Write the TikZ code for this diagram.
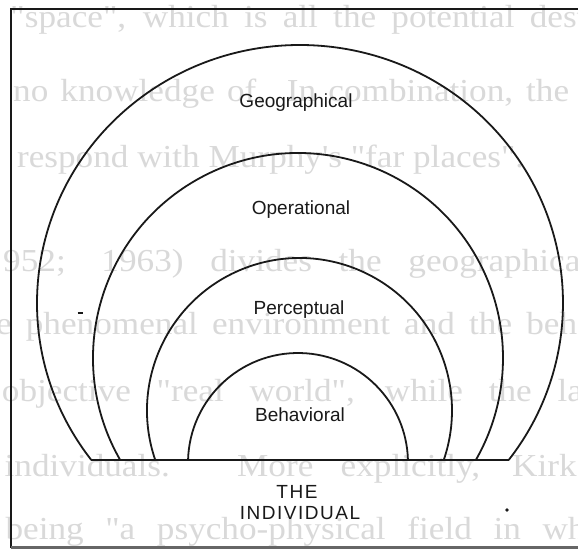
\documentclass[tikz,border=0pt]{standalone}
\usepackage{fontspec}
\setmainfont{Liberation Serif}
\newfontfamily\labelfont{Liberation Sans}
\newfontfamily\pagefont[FakeStretch=1.1]{Liberation Serif}
\usetikzlibrary{calc}

\begin{document}
\begin{tikzpicture}[x=1pt,y=1pt,
  ring/.style={line width=1.8pt, black!90},
  baseline rule/.style={line width=2.6pt, black!90},
  frame/.style={line width=2.6pt, black!90},
  lbl/.style={font=\labelfont\fontsize{19}{21}\selectfont, text=black!90, inner sep=0pt},
  spaced/.style={font=\labelfont\fontsize{19}{21}\selectfont\addfontfeature{LetterSpace=8}, text=black!90, inner sep=0pt},
  pageline/.style={font=\pagefont\fontsize{32}{34}\selectfont, text=black!15, inner sep=0pt, anchor=base west}]
\useasboundingbox (0,0) rectangle (578,550);
\clip (0,0) rectangle (578,550);
\fill[white] (0,0) rectangle (578,550);

% text of the page showing through
\begin{scope}[rotate around={-1:(300,275)}]
  \node[pageline] (p1) at (6,517) {\makebox[576pt][s]{"space", which is all the potential dest}};
  \node[pageline] (p2) at (10,443) {\makebox[556pt][s]{no knowledge of.  In combination, the}};
  \node[pageline] (p3) at (15,378) {respond with Murphy's "far places".};
  \node[pageline] (p4) at (3,273) {\makebox[587pt][s]{952;  1963)  divides  the  geographical}};
  \node[pageline] (p5) at (-3,210) {\makebox[581pt][s]{e phenomenal environment and the beh}};
  \node[pageline] (p6) at (4,143) {\makebox[581pt][s]{objective "real world", while the la}};
  \node[pageline] (p7) at (8,68) {\makebox[572pt][s]{individuals.   More explicitly, Kirk}};
  \node[pageline] (p8) at (10,5) {\makebox[580pt][s]{being "a psycho-physical field in wh}};
\end{scope}

% frame
\coordinate (fTL) at (11,541);
\coordinate (fTR) at (582,541);
\coordinate (fBL) at (11,2.5);
\coordinate (fBR) at (582,2.5);
\draw[frame] (fTR) -- (fTL) -- (fBL);
\draw[frame, black!60] (fBL) -- (fBR);

% nested environments
\coordinate (cG) at (300,247);
\draw[ring] (cG) ++(217.49:263pt and 258pt) coordinate (gL)
  arc[start angle=217.49, end angle=-37.49, x radius=263pt, y radius=258pt] coordinate (gR);
\coordinate (cO) at (298,192);
\draw[ring] (cO) ++(209.84:205pt) arc[start angle=209.84, end angle=-29.84, radius=205pt];
\coordinate (cP) at (299.5,139.5);
\draw[ring] (cP) ++(198.94:152.5pt) arc[start angle=198.94, end angle=-18.94, radius=152.5pt];
\coordinate (cB) at (298,87);
\draw[ring] (cB) ++(178.44:110pt) arc[start angle=178.44, end angle=1.56, radius=110pt];
\draw[baseline rule] (gL) -- (gR);

% labels
\node[lbl] (geo) at (296,447) {Geographical};
\node[lbl] (ope) at (301,340) {Operational};
\node[lbl] (per) at (299,240) {Perceptual};
\node[lbl] (beh) at (300,135) {Behavioral};
\node[spaced] (the) at (297,58) {THE};
\node[spaced] (ind) at (300,37) {INDIVIDUAL};

% stray marks
\coordinate (dA) at (77.5,237);
\coordinate (dB) at (82.5,237);
\draw[line width=1.6pt, black!90] (dA) -- (dB);
\fill[black!90] (507,40) circle (1.8pt);
\end{tikzpicture}
\end{document}
